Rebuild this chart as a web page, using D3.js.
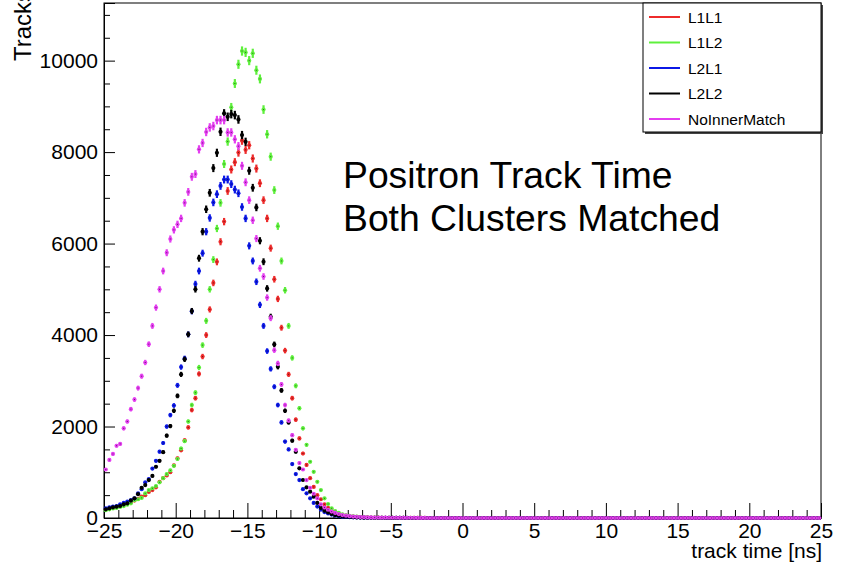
<!DOCTYPE html>
<html>
<head>
<meta charset="utf-8">
<script src="https://cdn.jsdelivr.net/npm/d3@7"></script>
<style>
  body { margin: 0; background: #fff; }
  svg { display: block; }
  text { font-family: "Liberation Sans", Arial, Helvetica, sans-serif; fill: #000; }
</style>
</head>
<body>
<svg id="chart" width="842" height="565"></svg>
<script>
// Histogram binning: 200 bins of 0.25 ns over [-25, 25]
const binLow = -25, binHigh = 25, nBins = 200;

// Bin contents (counts) from the first bin upward; later bins are empty
const countsL1L1 = [
  190, 200, 220, 240, 260, 290, 310, 340, 380, 420,
  470, 500, 570, 610, 670, 790, 870, 930, 1000, 1150,
  1305, 1480, 1700, 1980, 2360, 2620, 3150, 3530, 4000, 4560,
  5140, 5600, 6040, 6480, 7150, 7620, 7780, 7990, 8250, 8050,
  8150, 7860, 7640, 7320, 6950, 6550, 5900, 5220, 4790, 4160,
  3660, 3140, 2620, 2150, 1740, 1410, 1160, 870, 680, 500,
  410, 300, 220, 160, 120, 90, 70, 52, 40, 31,
  24, 19, 15, 12, 10, 8, 7, 6, 5, 4,
  4, 3, 3, 2, 2, 2, 1, 1, 1, 1
];
const countsL1L2 = [
  170, 190, 210, 220, 240, 260, 290, 320, 390, 410,
  440, 540, 610, 650, 700, 780, 870, 960, 1040, 1140,
  1290, 1520, 1680, 2110, 2470, 2740, 3290, 3780, 4310, 5000,
  5650, 6330, 6890, 7740, 8230, 8980, 9500, 9920, 10210, 10180,
  10000, 10160, 9790, 9600, 8930, 8390, 7900, 7170, 6380, 5620,
  4980, 4200, 3500, 2890, 2400, 1960, 1600, 1230, 1010, 790,
  610, 430, 306, 212, 150, 110, 80, 60, 45, 35,
  28, 22, 17, 14, 11, 9, 8, 7, 6, 5,
  4, 4, 3, 3, 2, 2, 2, 1, 1, 1
];
const countsL2L1 = [
  212, 234, 247, 262, 300, 330, 360, 393, 430, 540,
  630, 780, 850, 1080, 1250, 1450, 1640, 2000, 2250, 2460,
  2900, 3300, 3490, 4015, 4520, 5115, 5400, 5790, 6260, 6560,
  6900, 7080, 7260, 7400, 7400, 7300, 7180, 7100, 6800, 6550,
  5950, 5620, 5165, 4660, 4200, 3650, 3260, 2870, 2470, 2090,
  1670, 1500, 1180, 960, 830, 630, 540, 430, 330, 250,
  180, 130, 100, 75, 55, 40, 30, 23, 18, 14,
  11, 9, 7, 6, 5, 4, 3, 3, 2, 2,
  2, 1, 1, 1, 1
];
const countsL2L2 = [
  190, 212, 234, 247, 262, 300, 321, 380, 430, 520,
  660, 720, 830, 920, 1120, 1250, 1440, 1800, 2010, 2345,
  2670, 3140, 3470, 4015, 4525, 5000, 5680, 6260, 6750, 7110,
  7650, 7985, 8444, 8845, 8772, 8831, 8809, 8714, 8372, 8225,
  7592, 7220, 6790, 6062, 5603, 5020, 4400, 3796, 3307, 2790,
  2345, 2090, 1690, 1449, 1086, 831, 671, 575, 466, 330,
  220, 160, 120, 90, 65, 50, 38, 29, 22, 17,
  13, 10, 8, 6, 5, 4, 3, 3, 2, 2,
  2, 1, 1, 1
];
const countsNoInnerMatch = [
  1060, 1270, 1400, 1580, 1620, 1960, 2110, 2380, 2590, 2840,
  3100, 3400, 3800, 4200, 4600, 5000, 5400, 5800, 6100, 6300,
  6420, 6550, 6890, 7130, 7460, 7520, 8060, 8200, 8440, 8540,
  8570, 8700, 8700, 8700, 8430, 8430, 8280, 8130, 7700, 7340,
  6950, 6510, 6110, 5460, 5280, 4820, 4370, 3670, 3380, 2920,
  2470, 2130, 1810, 1490, 1200, 1060, 830, 660, 530, 430,
  300, 230, 180, 140, 110, 85, 65, 50, 40, 32,
  26, 21, 17, 14, 12, 10, 9, 8, 7, 6,
  5, 5, 4, 4, 3, 3, 3, 2, 2, 2
];

const seriesNames  = ["L1L1", "L1L2", "L2L1", "L2L2", "NoInnerMatch"];
const seriesColors = ["#ee2b2b", "#5ef03c", "#0b18e6", "#000000", "#e43ef0"];
const seriesCounts = [countsL1L1, countsL1L2, countsL2L1, countsL2L2, countsNoInnerMatch];

const xMajorTicks = [-25, -20, -15, -10, -5, 0, 5, 10, 15, 20, 25];
const yMajorTicks = [0, 2000, 4000, 6000, 8000, 10000];
const yMax = 11260;

const xTitle = "track time [ns]";
const yTitle = "Tracks";
const noteLines = ["Positron Track Time", "Both Clusters Matched"];

// ---- frame geometry ----
const frame = { left: 104, right: 821, top: 3, bottom: 518 };

const svg = d3.select("#chart");
const x = d3.scaleLinear().domain([binLow, binHigh]).range([frame.left, frame.right]);
const y = d3.scaleLinear().domain([0, yMax]).range([frame.bottom, frame.top]);

const binWidth = (binHigh - binLow) / nBins;
const binCenters = d3.range(nBins).map(i => binLow + (i + 0.5) * binWidth);

svg.append("rect")
  .attr("x", frame.left).attr("y", frame.top)
  .attr("width", frame.right - frame.left).attr("height", frame.bottom - frame.top)
  .attr("fill", "none").attr("stroke", "#000").attr("stroke-width", 1);

// x axis: major ticks with labels, minor ticks every 1 ns, all pointing into the frame
const xMinor = d3.range(binLow, binHigh + 0.001, 1).filter(v => !xMajorTicks.includes(v));
svg.append("g").attr("transform", `translate(0,${frame.bottom})`)
  .call(d3.axisBottom(x).tickValues(xMinor).tickSize(-8).tickFormat(""))
  .call(g => g.select(".domain").remove());
const gx = svg.append("g").attr("transform", `translate(0,${frame.bottom})`)
  .call(d3.axisBottom(x).tickValues(xMajorTicks).tickSize(-15).tickPadding(5));
gx.select(".domain").attr("stroke", "#000");
gx.selectAll("text").attr("font-size", 21);

// y axis: majors every 2000, minors every 500
const yMinor = d3.range(0, yMax, 500).filter(v => !yMajorTicks.includes(v));
svg.append("g").attr("transform", `translate(${frame.left},0)`)
  .call(d3.axisLeft(y).tickValues(yMinor).tickSize(-6).tickFormat(""))
  .call(g => g.select(".domain").remove());
const gy = svg.append("g").attr("transform", `translate(${frame.left},0)`)
  .call(d3.axisLeft(y).tickValues(yMajorTicks).tickSize(-11).tickPadding(6).tickFormat(d3.format("d")));
gy.select(".domain").attr("stroke", "#000");
gy.selectAll("text").attr("font-size", 21);

// axis titles
svg.append("text")
  .attr("x", frame.right + 1).attr("y", 558)
  .attr("text-anchor", "end").attr("font-size", 21)
  .text(xTitle);
svg.append("text")
  .attr("transform", `translate(31,-10) rotate(-90)`)
  .attr("text-anchor", "end").attr("font-size", 24)
  .text(yTitle);

// data points with sqrt(N) error bars
const plot = svg.append("g");
seriesCounts.forEach((counts, s) => {
  const pts = binCenters.map((c, i) => ({ x: c, v: counts[i] ?? 0 }));
  const g = plot.append("g");
  g.selectAll("line").data(pts).join("line")
    .attr("x1", d => x(d.x)).attr("x2", d => x(d.x))
    .attr("y1", d => y(d.v + Math.sqrt(d.v))).attr("y2", d => y(Math.max(0, d.v - Math.sqrt(d.v))))
    .attr("stroke", seriesColors[s]).attr("stroke-width", 2.2);
  g.selectAll("circle.m").data(pts).join("circle").attr("class", "m")
    .attr("cx", d => x(d.x)).attr("cy", d => y(d.v)).attr("r", 2.1)
    .attr("fill", seriesColors[s]);
  g.selectAll("rect.c").data(pts).join("rect").attr("class", "c")
    .attr("x", d => x(d.x) - 0.5).attr("y", d => y(d.v) - 0.5)
    .attr("width", 1).attr("height", 1).attr("fill", "#000").attr("opacity", 0.55);
});

// legend
const leg = { x: 643, y: 3, w: 178, h: 129 };
svg.append("rect").attr("x", leg.x + 2).attr("y", leg.y + 2).attr("width", leg.w).attr("height", leg.h)
  .attr("fill", "#444");
svg.append("rect").attr("x", leg.x).attr("y", leg.y).attr("width", leg.w).attr("height", leg.h)
  .attr("fill", "#fff").attr("stroke", "#000").attr("stroke-width", 1);
const rowY = d3.scalePoint().domain(seriesNames).range([leg.y + 14, leg.y + 116]);
seriesNames.forEach((name, s) => {
  const yy = rowY(name);
  svg.append("line").attr("x1", leg.x + 6).attr("x2", leg.x + 37)
    .attr("y1", yy).attr("y2", yy).attr("stroke", seriesColors[s]).attr("stroke-width", 2);
  svg.append("text").attr("x", leg.x + 45).attr("y", yy).attr("dy", "0.36em")
    .attr("font-size", 15.5).text(name);
});

// annotation
svg.append("g").selectAll("text").data(noteLines).join("text")
  .attr("x", 343).attr("y", (d, i) => 188 + i * 43)
  .attr("font-size", 37.3).text(d => d);
</script>
</body>
</html>
